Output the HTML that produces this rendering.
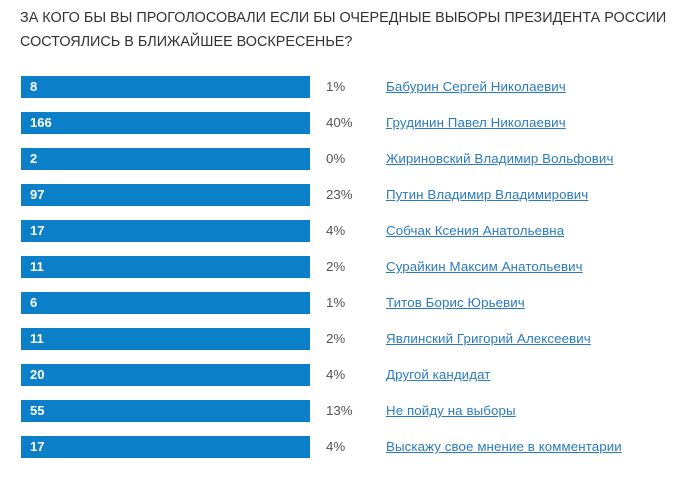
<!DOCTYPE html>
<html><head><meta charset="utf-8"><style>
body{margin:0;width:700px;height:477px;background:#fff;font-family:"Liberation Sans",Arial,sans-serif;position:relative;overflow:hidden}
.t{position:absolute;left:20px;font-size:14.4px;color:#333}
.bar{position:absolute;left:21px;width:289px;height:22px;background:#0b80c8;color:#fff;font-weight:bold;font-size:13px;line-height:22px;box-sizing:border-box;padding-left:9px}
.p{position:absolute;left:326px;font-size:13.3px;color:#555;line-height:22px}
.l{position:absolute;left:386px;font-size:13.3px;color:#2a7bbd;text-decoration:underline;line-height:22px;letter-spacing:0.1px}
</style></head><body>
<div class="t" style="top:10px">ЗА КОГО БЫ ВЫ ПРОГОЛОСОВАЛИ ЕСЛИ БЫ ОЧЕРЕДНЫЕ ВЫБОРЫ ПРЕЗИДЕНТА РОССИИ</div>
<div class="t" style="top:34px">СОСТОЯЛИСЬ В БЛИЖАЙШЕЕ ВОСКРЕСЕНЬЕ?</div>
<div class="bar" style="top:76px">8</div><div class="p" style="top:76px">1%</div><div class="l" style="top:76px">Бабурин Сергей Николаевич</div>
<div class="bar" style="top:112px">166</div><div class="p" style="top:112px">40%</div><div class="l" style="top:112px">Грудинин Павел Николаевич</div>
<div class="bar" style="top:148px">2</div><div class="p" style="top:148px">0%</div><div class="l" style="top:148px">Жириновский Владимир Вольфович</div>
<div class="bar" style="top:184px">97</div><div class="p" style="top:184px">23%</div><div class="l" style="top:184px">Путин Владимир Владимирович</div>
<div class="bar" style="top:220px">17</div><div class="p" style="top:220px">4%</div><div class="l" style="top:220px">Собчак Ксения Анатольевна</div>
<div class="bar" style="top:256px">11</div><div class="p" style="top:256px">2%</div><div class="l" style="top:256px">Сурайкин Максим Анатольевич</div>
<div class="bar" style="top:292px">6</div><div class="p" style="top:292px">1%</div><div class="l" style="top:292px">Титов Борис Юрьевич</div>
<div class="bar" style="top:328px">11</div><div class="p" style="top:328px">2%</div><div class="l" style="top:328px">Явлинский Григорий Алексеевич</div>
<div class="bar" style="top:364px">20</div><div class="p" style="top:364px">4%</div><div class="l" style="top:364px">Другой кандидат</div>
<div class="bar" style="top:400px">55</div><div class="p" style="top:400px">13%</div><div class="l" style="top:400px">Не пойду на выборы</div>
<div class="bar" style="top:436px">17</div><div class="p" style="top:436px">4%</div><div class="l" style="top:436px">Выскажу свое мнение в комментарии</div>
</body></html>
